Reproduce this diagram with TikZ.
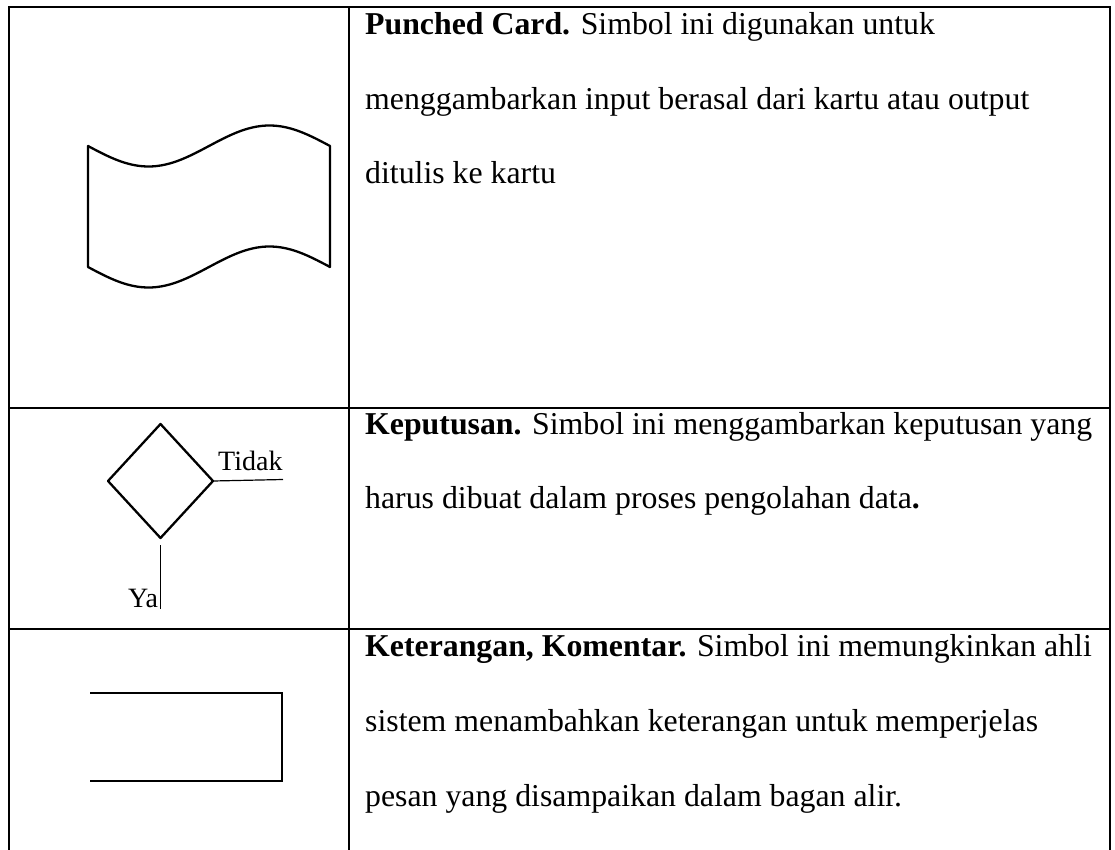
\documentclass[tikz,border=0pt]{standalone}
\usepackage{fontspec}
\setmainfont{Liberation Serif}
\usetikzlibrary{shapes.geometric}
\tikzset{
  grid/.style={line width=2.1pt},
  sym/.style={line width=2.3pt, line join=round},
  thinline/.style={line width=1.2pt},
  body/.style={anchor=base west, inner sep=0pt, font=\fontsize{31.8pt}{38pt}\selectfont},
  small/.style={anchor=base west, inner sep=0pt, font=\fontsize{28pt}{34pt}\selectfont},
}
\begin{document}
\begin{tikzpicture}[x=1pt,y=-1pt]
\useasboundingbox (0,0) rectangle (1115,850);
% table grid
\coordinate (tl) at (9,7);
\coordinate (tr) at (1110,7);
\coordinate (bl) at (9,850);
\coordinate (br) at (1110,850);
\coordinate (ct) at (349,7);
\coordinate (cb) at (349,850);
\coordinate (r1l) at (9,408);
\coordinate (r1r) at (1110,408);
\coordinate (r2l) at (9,629);
\coordinate (r2r) at (1110,629);
\draw[grid] (bl) -- (tl) -- (tr) -- (br);
\draw[grid] (ct) -- (cb);
\draw[grid] (r1l) -- (r1r);
\draw[grid] (r2l) -- (r2r);

% punched card symbol
\draw[sym] plot[domain=0:242, samples=80, smooth] ({88+\x},{146+20.5*sin(\x*1.48760)})
  -- plot[domain=242:0, samples=80, smooth] ({88+\x},{267+20.5*sin(\x*1.48760)}) -- cycle;

% decision symbol
\node[draw, sym, diamond, minimum width=105pt, minimum height=114pt, inner sep=0pt, outer sep=0pt] (dec) at (160.5,481) {};
\coordinate (tidakEnd) at (283,479.5);
\coordinate (yaEnd) at (160.5,609);
\draw[thinline] (dec.east) -- (tidakEnd);
\draw[thinline] ([yshift=-7pt]dec.south) -- (yaEnd);
\node[small] (tidak) at (218,470) {Tidak};
\node[small] (ya) at (128,607) {Ya};

% comment symbol
\coordinate (c1) at (90,693);
\coordinate (c2) at (282,693);
\coordinate (c3) at (282,781);
\coordinate (c4) at (90,781);
\draw[sym, line join=miter] (c1) -- (c2) -- (c3) -- (c4);

% texts
\node[body] (t11) at (365,35) {\textbf{Punched Card.} Simbol ini digunakan untuk};
\node[body] (t12) at (365,109.5) {menggambarkan input berasal dari kartu atau output};
\node[body] (t13) at (365,184) {ditulis ke kartu};
\node[body] (t21) at (365,434) {\textbf{Keputusan.} Simbol ini menggambarkan keputusan yang};
\node[body] (t22) at (365,508.5) {harus dibuat dalam proses pengolahan data\textbf{.}};
\node[body] (t31) at (365,656) {\textbf{Keterangan, Komentar.} Simbol ini memungkinkan ahli};
\node[body] (t32) at (365,731) {sistem menambahkan keterangan untuk memperjelas};
\node[body] (t33) at (365,806) {pesan yang disampaikan dalam bagan alir.};
\end{tikzpicture}
\end{document}
